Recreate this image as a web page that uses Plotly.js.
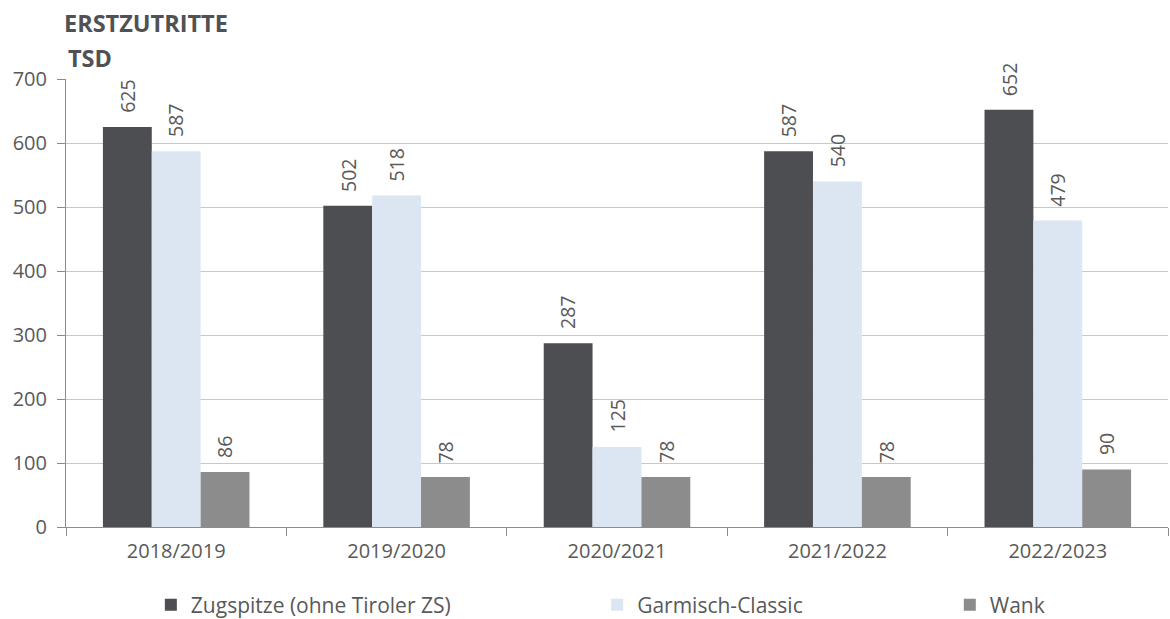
<!DOCTYPE html>
<html><head><meta charset="utf-8">
<script src="https://cdn.plot.ly/plotly-3.0.1.min.js"></script>
<style>body{margin:0;background:#fff}#c{width:1170px;height:619px}</style>
</head><body><div id="c"></div>
<script>
const seasons = ["2018/2019","2019/2020","2020/2021","2021/2022","2022/2023"];
const zugspitze = [625,502,287,587,652];
const garmisch = [587,518,125,540,479];
const wank = [86,78,78,78,90];
const seriesNames = ["Zugspitze (ohne Tiroler ZS)","Garmisch-Classic","Wank"];
const colors = ["#4d4e52","#dce6f2","#8c8c8c"];
const txt = "#595959";
const fontFam = "'Open Sans', Lato, sans-serif";

const W = 1170, H = 619, ML = 66, MR = 2, MT = 79, MB = 92;
const bargap = 0.335;
const vals = [zugspitze, garmisch, wank];
const legs = ["legend","legend2","legend3"];
const traces = vals.map((v,i)=>({
  type:"bar", x:seasons, y:v, name:seriesNames[i],
  marker:{color:colors[i]},
  cliponaxis:false, legend:legs[i], hoverinfo:"x+y"
}));

// value labels: rotated annotations anchored on each bar top
const slotW = (W-ML-MR)/seasons.length;
const barW = slotW*(1-bargap)/vals.length;
const labelAnns = [];
vals.forEach((v,i)=>{
  v.forEach((n,j)=>{
    labelAnns.push({x:seasons[j], y:n, xref:"x", yref:"y", text:String(n),
      textangle:-90, xanchor:"center", yanchor:"bottom", showarrow:false,
      xshift:(i-(vals.length-1)/2)*barW, yshift:12,
      font:{size:19.5,color:txt,family:fontFam}});
  });
});

const legBase = {orientation:"h", yanchor:"middle", yref:"container", y:1-605/H, xanchor:"left",
  font:{size:21,color:txt,family:fontFam}, bgcolor:"rgba(0,0,0,0)", itemwidth:30};
const layout = {
  width:W, height:H,
  margin:{l:ML,r:MR,t:MT,b:MB},
  paper_bgcolor:"#fff", plot_bgcolor:"#fff",
  barmode:"group", bargap:bargap, bargroupgap:0,
  font:{family:fontFam,color:txt},
  xaxis:{type:"category", showline:true, linecolor:"#8c8c8c", linewidth:1,
    ticks:"outside", tickson:"boundaries", ticklen:8, tickcolor:"#8c8c8c",
    ticklabelstandoff:6,
    tickfont:{size:20,color:txt,family:fontFam}, showgrid:false},
  yaxis:{range:[0,700], dtick:100, showline:true, linecolor:"#8c8c8c",
    ticks:"outside", ticklen:8, tickcolor:"#8c8c8c", ticklabelstandoff:6,
    gridcolor:"#c8c8c8", gridwidth:1, zeroline:false,
    tickfont:{size:20,color:txt,family:fontFam}},
  legend: Object.assign({}, legBase, {x:0.077}),
  legend2: Object.assign({}, legBase, {x:0.482}),
  legend3: Object.assign({}, legBase, {x:0.802}),
  annotations:[
    {text:"<b>ERSTZUTRITTE</b>", xref:"paper", yref:"paper", x:-0.004, y:1.0, yshift:56,
     xanchor:"left", yanchor:"middle", showarrow:false, font:{size:23.5,color:"#505155",family:fontFam}},
    {text:"<b>TSD</b>", xref:"paper", yref:"paper", x:0, y:1.0, yshift:21,
     xanchor:"left", yanchor:"middle", showarrow:false, font:{size:23.5,color:"#505155",family:fontFam}}
  ].concat(labelAnns),
  showlegend:true
};
Plotly.newPlot("c", traces, layout, {displayModeBar:false});
</script></body></html>
